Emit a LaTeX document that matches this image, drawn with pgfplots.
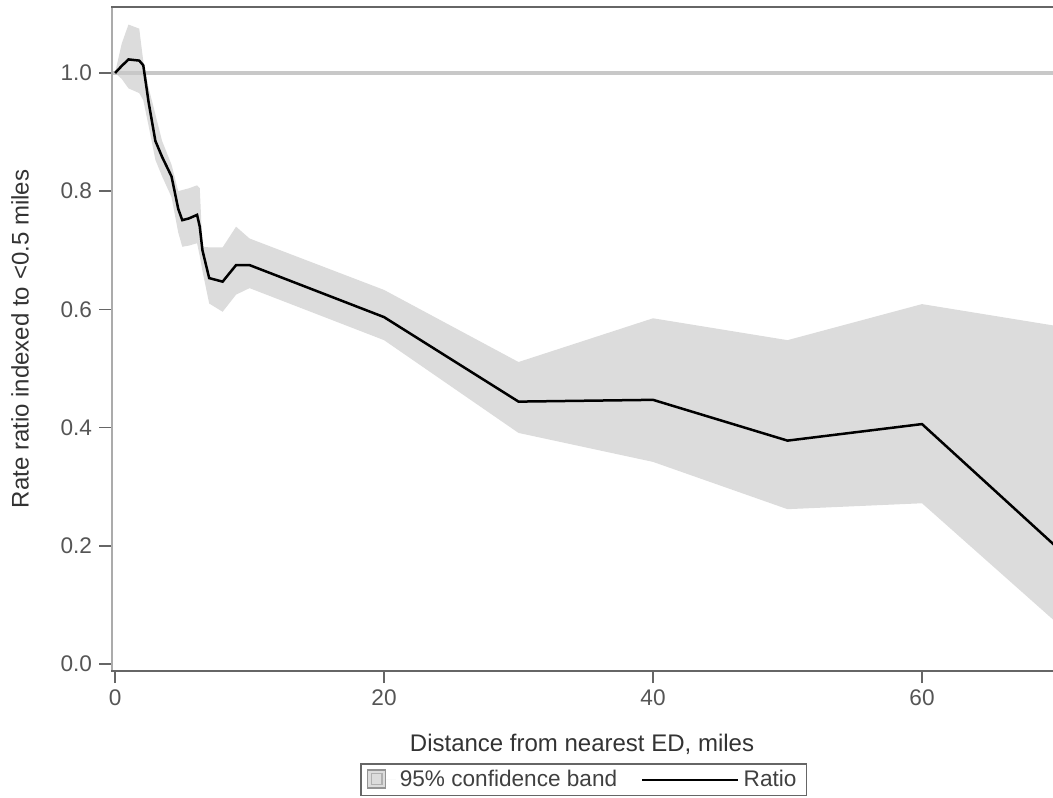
\documentclass[border=0pt]{standalone}
\usepackage{fontspec}
\setmainfont{Liberation Sans}
\usepackage{pgfplots}
\pgfplotsset{compat=1.18}
\usepgfplotslibrary{fillbetween}
\definecolor{band}{HTML}{DCDCDC}
\definecolor{refl}{HTML}{C8C8C8}
\definecolor{leftax}{HTML}{ABABAB}
\definecolor{darkax}{HTML}{666666}
\definecolor{ticklab}{HTML}{555555}

\pgfplotstableread{
x     ratio  upper  lower
0     1.000  1.000  1.000
0.5   1.012  1.050  0.990
1.0   1.023  1.082  0.974
1.8   1.021  1.075  0.966
2.1   1.013  1.020  0.954
2.5   0.950  0.975  0.910
3.0   0.885  0.930  0.853
3.5   0.858  0.885  0.825
4.2   0.825  0.845  0.790
4.7   0.770  0.800  0.730
5.0   0.751  0.802  0.706
5.5   0.754  0.805  0.708
6.1   0.760  0.810  0.712
6.3   0.740  0.805  0.690
6.5   0.700  0.706  0.665
7.0   0.653  0.705  0.610
8.0   0.647  0.705  0.596
9.0   0.675  0.740  0.625
10.0  0.675  0.720  0.636
20.0  0.587  0.633  0.548
30.0  0.444  0.511  0.391
40.0  0.447  0.585  0.342
50.0  0.378  0.548  0.262
60.0  0.406  0.609  0.272
70.0  0.198  0.572  0.070
}\datatable

\begin{document}
\begin{tikzpicture}
\begin{axis}[
  at={(0,0)}, anchor=south west,
  scale only axis,
  width=471pt, height=332pt,
  xmin=-0.3, xmax=69.74,
  ymin=-0.0118, ymax=1.1117,
  xtick={0,20,40,60},
  ytick={0,0.2,0.4,0.6,0.8,1.0},
  yticklabel style={/pgf/number format/.cd, fixed, fixed zerofill, precision=1},
  /pgf/number format/assume math mode=true,
  tick label style={font=\fontsize{11.3}{13}\selectfont, text=ticklab},
  label style={font=\fontsize{12}{14}\selectfont, text=black!80},
  tick align=outside,
  major tick length=6pt,
  tick style={darkax, line width=0.8pt},
  xtick pos=bottom, ytick pos=left,
  axis line style={draw=none},
  xlabel={Distance from nearest ED, miles},
  ylabel={Rate ratio indexed to <0.5 miles},
  xlabel style={at={(axis description cs:0.5,-0.111)}, anchor=center},
  ylabel style={at={(axis description cs:-0.0966,0.5)}, anchor=center},
  legend columns=2,
  legend style={at={(axis description cs:0.502,-0.164)}, anchor=center,
    draw=darkax, line width=0.8pt, font=\fontsize{11.3}{13}\selectfont, text=black!75,
    inner xsep=3pt, inner ysep=1pt,
    /tikz/every even column/.append style={column sep=10pt}},
]
\addplot[name path=up, draw=none, forget plot] table[x=x, y=upper] {\datatable};
\addplot[name path=lo, draw=none, forget plot] table[x=x, y=lower] {\datatable};
\addplot[band, draw=none,
  legend image code/.code={\path (0pt,0pt) -- (14pt,0pt);
  \draw[darkax!70, line width=0.6pt, fill=band] (0pt,-4pt) rectangle (9pt,5pt);
  \draw[band!80!black, fill=band] (1.8pt,-2.2pt) rectangle (7.2pt,3.2pt);}]
  fill between[of=up and lo];
\addlegendentry{95\% confidence band}
\addplot[refl, line width=1.6pt, forget plot] coordinates {(-1,1) (80,1)};
\addplot[black, line width=1.25pt,
  legend image code/.code={\draw[black, line width=1.1pt] (0pt,0pt) -- (43pt,0pt);
  \path (0pt,0pt) -- (48pt,0pt);}]
  table[x=x, y=ratio] {\datatable};
\addlegendentry{Ratio}
\draw[leftax, line width=2pt] (rel axis cs:0,0) -- (rel axis cs:0,1);
\draw[darkax, line width=1.1pt] (rel axis cs:0,1) -- (rel axis cs:1,1);
\draw[darkax, line width=1.1pt] (rel axis cs:0,0) -- (rel axis cs:1,0);
\end{axis}
\pgfresetboundingbox
\path[use as bounding box] (-55.5pt,-63pt) rectangle (471pt,335.5pt);
\end{tikzpicture}
\end{document}
